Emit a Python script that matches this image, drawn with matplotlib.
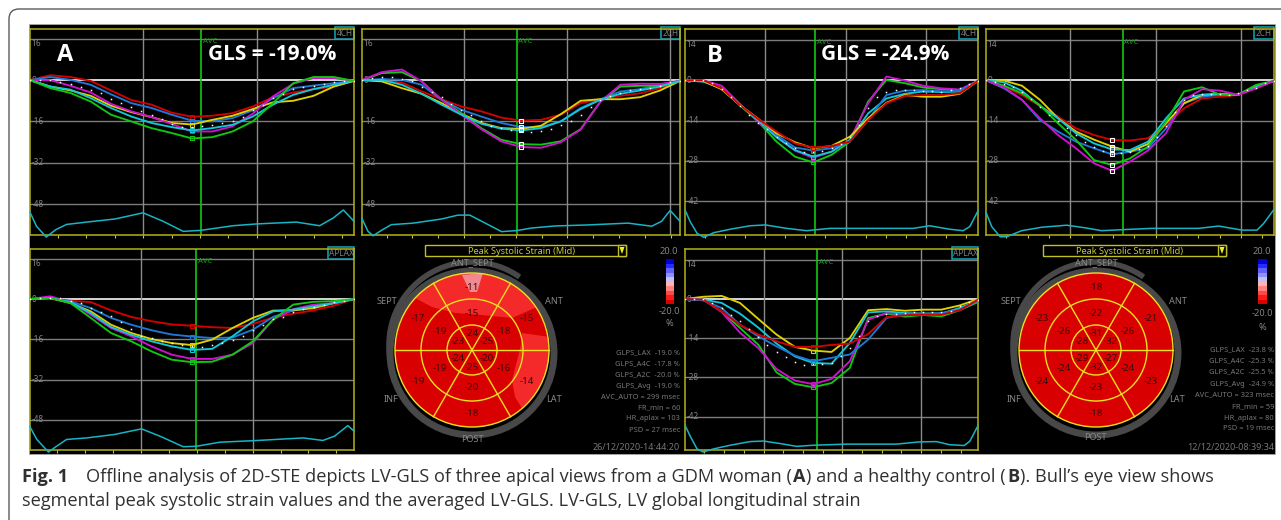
import matplotlib
matplotlib.use('Agg')
import matplotlib.pyplot as plt
import numpy as np
from matplotlib.patches import Rectangle, Circle, Arc, Polygon, FancyBboxPatch

plt.rcParams['font.family'] = ['Noto Sans', 'DejaVu Sans']

# time axis of one cycle, as a fraction of the panel width
knot_x = [0, .0625, .125, .1875, .25, .3125, .375, .4375, .5, .5625, .625, .6875, .75, .8125, .875, .9375, 1]
dots_x = [0, .03125, .0625, .09375, .125, .15625, .1875, .21875, .25, .28125, .3125, .34375, .375, .40625, .4375,
          .46875, .5, .53125, .5625, .59375, .625, .65625, .6875, .71875, .75, .78125, .8125, .84375, .875, .90625,
          .9375, .96875, 1]

# A 4CH
a4_red = [0, 1.9, 1.2, -.3, -4, -7.7, -9.5, -12.6, -14.2, -13.8, -12.8, -10.2, -6.6, -4.8, -3.5, -2.5, -.3]
a4_blue = [0, 1.2, .1, -1.8, -5.5, -8.9, -10.8, -13.4, -15.7, -16, -14.7, -11.7, -7, -3.1, -2.1, -1.2, -.3]
a4_yellow = [0, -2.5, -4, -6.1, -9.9, -12.4, -14.3, -16.6, -17.2, -15.4, -13.8, -11.2, -8.6, -8, -6.1, -2.5, -.3]
a4_magenta = [0, 0, -2.2, -4.8, -9.2, -12.1, -14.3, -17, -19.9, -19.9, -17.9, -13, -6.3, -1.4, .8, .8, -.3]
a4_cyan = [0, -2.5, -3.7, -7, -10.8, -14.1, -16.6, -18.2, -19.5, -18.6, -17.3, -14.1, -9.5, -5.7, -3.5, -1.8, -.3]
a4_green = [0, -3.1, -5, -8.3, -13.4, -16, -18.6, -20.5, -22.6, -22.1, -19.9, -16, -8.9, -1.2, 1.2, 1.2, -.3]
a4_dots = [0, 0, -.1, -.8, -1.4, -2.6, -3.7, -5, -7.2, -9, -10.6, -12.1, -13.7, -15.2, -16.9, -18.1, -18.2, -17.9,
           -17.4, -16.8, -15.7, -14.3, -11.7, -9.5, -7, -5.2, -3.5, -2.6, -2.3, -1.6, -.9, -.4, -.3]
a4_ecg_x = [0, .02, .05, .08, .113, .175, .262, .349, .411, .473, .527, .627, .701, .822, .894, .936, .967, 1]
a4_ecg = [-51.2, -56.6, -60.8, -57.9, -55.9, -55, -53.8, -51.4, -54.7, -58.6, -58.2, -56.4, -55.7, -55, -56.4, -53.4,
          -50.3, -54.7]

# A 2CH
a2_red = [0, -.3, -.9, -4.4, -7.4, -10.2, -12.1, -14.5, -15.7, -15.4, -13.4, -8.9, -7.4, -6.1, -5.1, -3.1, -.3]
a2_blue = [0, .4, .1, -1.8, -7.6, -11.5, -14.1, -16.6, -18.2, -18.2, -16, -10.8, -7.4, -4.4, -3.5, -1.8, -.3]
a2_yellow = [0, -.5, -3.1, -5.3, -8.9, -13, -16.6, -18.6, -18.9, -17.7, -13.2, -8, -7.4, -7.4, -6.6, -4, -.3]
a2_magenta = [0, 3.1, 4.1, -.5, -7.6, -13.4, -19, -23.7, -25.9, -26.2, -24.1, -19.2, -8.3, -1.8, -1.4, -1.5, -.3]
a2_cyan = [0, .1, -1.8, -5.3, -9.5, -13.4, -16.9, -18.8, -19.5, -18.6, -16, -11.2, -7.6, -5.3, -4, -2.5, -.3]
a2_green = [0, 2.7, 3.1, -.5, -7.6, -12.8, -18.6, -23.1, -24.8, -25, -23.7, -19, -8.3, -2.5, -2.2, -2.2, -.3]
a2_dots = [0, .9, 1.2, 1.3, .5, -.3, -2.5, -4.6, -6.7, -9.2, -11.5, -13.7, -15.7, -17.7, -18.5, -19.4, -19.9, -20.1,
           -19.6, -18.8, -17.4, -15.9, -13.4, -10.5, -7.6, -6.1, -4.8, -4, -3.6, -3, -2.1, -.6, -.3]
a2_ecg_x = [0, .019, .035, .061, .092, .161, .25, .302, .339, .397, .439, .486, .533, .607, .711, .837, .911, .942,
            .969, 1]
a2_ecg = [-53.7, -58.6, -60.3, -58.2, -56, -55.4, -53.8, -52.3, -52.3, -56, -58.7, -58.3, -57.3, -56.5, -56.1, -55.4,
          -56.6, -54.7, -50.5, -54.7]

# A APLAX
al_red = [0, 0, -.7, -1.2, -4.5, -7.1, -8.8, -10.1, -10.6, -11.2, -11.5, -9.9, -7.3, -5.8, -4.5, -2.6, 0]
al_blue = [0, .5, -.9, -3.6, -7.5, -10.2, -12.4, -14.1, -14.9, -15.5, -15.3, -12.2, -7.1, -4.5, -3.3, -1.6, 0]
al_yellow = [0, .4, -1.6, -4.9, -10.2, -13.5, -15.9, -17.5, -18.3, -16.1, -11.5, -7.5, -4.6, -4.5, -3.6, -1.6, 0]
al_magenta = [0, 1.1, -1.2, -6.2, -11.5, -14.8, -18.8, -22.1, -23.8, -23.8, -22.1, -17.5, -8.2, -4, -2.2, -1.6, 0]
al_cyan = [0, .4, -1.2, -5.6, -11.1, -14.2, -16.8, -18.8, -20.2, -19.8, -14.8, -8.9, -4.9, -4.2, -2.9, -1.6, 0]
al_green = [0, .4, -1.6, -7.5, -13.5, -16.8, -20.8, -24.1, -25.1, -24.9, -22.1, -16.8, -8.2, -2.2, -1.1, -.8, 0]
al_dots = [0, .4, .5, .3, -.8, -1.7, -3.4, -5, -6.9, -9.2, -11.8, -14.5, -15.5, -16.5, -17.5, -18.4, -18.7, -19,
           -18.3, -17.5, -16.3, -14.8, -12.2, -10.5, -8, -7.1, -5.3, -4, -3, -2.3, -1.3, -.6, 0]
al_ecg_x = [0, .021, .057, .082, .113, .175, .262, .344, .401, .473, .514, .586, .689, .843, .904, .94, .981, 1]
al_ecg = [-50.8, -55.8, -60.8, -58.5, -55.8, -55.2, -53.8, -51.6, -54.5, -58.7, -58.5, -56.9, -56.3, -55.2, -56.2,
          -54.5, -50.3, -52.5]

# B 4CH
b4_red = [0, 0, -2.8, -8.6, -13.5, -17.8, -21.9, -23.4, -22.8, -21.3, -13.8, -8, -5.4, -5.1, -5.1, -4.5, -.2]
b4_blue = [0, -.1, -2.8, -8.6, -13.5, -19, -23.3, -24.4, -23.6, -21.3, -13.8, -5.1, -3.6, -3.4, -3.8, -3.7, -.2]
b4_yellow = [0, -.2, -3.1, -8.6, -13.4, -18.4, -21.5, -23.6, -22.8, -19.6, -13.2, -7.8, -5.1, -5.7, -5.7, -4.7, -.2]
b4_magenta = [0, 0, -1.9, -8.2, -14.4, -19.6, -24.4, -26.9, -24.8, -20.7, -8, 1.3, -.1, -1.9, -2.8, -3.2, -.2]
b4_cyan = [0, -.5, -2.8, -8.6, -14, -19.8, -24.2, -26.5, -24.8, -20.7, -11.5, -6.3, -4.7, -3.9, -4.1, -3.9, -.2]
b4_green = [0, -.2, -2.8, -8.6, -14.4, -21.3, -26.5, -28.5, -25.9, -21.3, -7.4, .1, -1, -2.5, -3.1, -3.4, -.2]
b4_dots = [0, 0, 0, -.8, -3, -5.9, -8.9, -12, -14.7, -16.8, -19.8, -21.9, -23.6, -24.8, -24.9, -24.4, -23.6, -22.2,
           -19.6, -15.5, -9.7, -5.9, -3.9, -3.4, -3.4, -3.5, -3.8, -3.8, -3.9, -3.5, -2.8, -1.2, -.2]
b4_ecg_x = [0, .018, .041, .064, .098, .154, .222, .274, .347, .415, .495, .665, .779, .835, .904, .949, .972, 1]
b4_ecg = [-45, -49.1, -53.1, -54.5, -52.9, -51.7, -50.5, -50.2, -51.4, -52.2, -51.4, -51.4, -51.4, -50.5, -51.7,
          -52.2, -50.8, -45.3]

# B 2CH
b2_red = [0, -2.2, -5.1, -8.9, -12.6, -16.7, -19, -20.7, -20.9, -20.1, -15.5, -9.7, -6.3, -5.7, -5.1, -2.8, -.2]
b2_blue = [0, -2.8, -6.8, -13.8, -17.8, -21.3, -23.6, -25.7, -24.8, -23.6, -16.7, -8, -5.7, -5, -5, -2.5, -.2]
b2_yellow = [0, -.1, -1.9, -6.8, -13.2, -17.8, -20.6, -23, -24.8, -22.1, -14.9, -8, -5.1, -4.7, -5.1, -2.2, -.2]
b2_magenta = [0, -2.5, -6.8, -13.2, -19, -23.6, -28.8, -31.4, -28.2, -24.4, -18.4, -6.8, -3.1, -3.6, -5, -2.8, -.2]
b2_cyan = [0, -.7, -3.7, -8.9, -13.2, -18.4, -21.9, -24, -24.2, -21.3, -13.2, -6.3, -5, -4.7, -5, -2.2, -.2]
b2_green = [0, -1.9, -4.5, -8.6, -14.9, -20.7, -27.7, -29.4, -27.1, -23, -14.4, -3.9, -2.4, -5, -5, -1.6, -.2]
b2_dots = [0, -.5, -1.2, -2.2, -3.9, -6.4, -9.1, -12, -14.1, -16.7, -19, -21.3, -23.3, -24.7, -25.7, -25.3, -24.8,
           -24, -22.8, -19.6, -15.9, -10.9, -6.8, -5.2, -4.6, -4.6, -4.6, -5, -4.5, -3.5, -2.7, -.8, -.2]
b2_ecg_x = [0, .02, .049, .072, .124, .194, .28, .344, .402, .483, .576, .738, .808, .889, .941, .964, 1]
b2_ecg = [-45.9, -50.8, -54.3, -54.3, -52.2, -51, -50.3, -51.2, -52.2, -51.8, -51.4, -51.4, -50.6, -52, -52, -49.7,
          -44.8]

# B APLAX
bl_red = [0, -.2, -4.4, -9.2, -12.7, -15.1, -17.1, -17.1, -16.4, -15.9, -12.5, -6.5, -5.8, -5.6, -5.6, -4, -.2]
bl_blue = [0, -.5, -3.2, -9.2, -13.3, -16.9, -20.2, -22.2, -21, -19.8, -14.5, -6.8, -5.2, -5.2, -5, -3.8, -.6]
bl_yellow = [0, .8, 1.1, -1.4, -7.1, -12.7, -17.1, -18.4, -18.9, -13.9, -4, -3.6, -4.2, -3.8, -3.8, -2.3, 0]
bl_magenta = [0, -.2, -4.6, -12, -17.5, -25, -29.1, -30.4, -28.5, -22.2, -7.4, -5, -5.5, -5.6, -5.6, -3.8, -.6]
bl_cyan = [0, -.2, -1.4, -5.2, -10.2, -15.9, -20.5, -22.8, -23.1, -15.7, -4.8, -4.4, -5, -5.2, -5.2, -3.2, -.6]
bl_green = [0, -.2, -4.4, -10.3, -16.3, -26.2, -30.3, -31.5, -30, -24.6, -6.8, -5.2, -6.3, -5.7, -6.2, -4, -1.1]
bl_dots = [0, 0, -.1, -1.4, -3.2, -5.6, -8, -10.7, -13.7, -16.5, -18.9, -20.7, -22.5, -23.4, -23.1, -23.2, -22.8,
           -20.5, -17.5, -13.3, -8, -5.9, -5.2, -5.2, -5, -4.8, -4.8, -4.8, -4.8, -4.4, -2.4, -1.2, -.2]
bl_ecg_x = [0, .018, .041, .062, .098, .154, .222, .268, .325, .381, .438, .552, .722, .801, .858, .903, .953, .972, 1]
bl_ecg = [-45.1, -49, -53.5, -54.6, -53.5, -52.2, -50.9, -50.7, -51.6, -52.6, -52.2, -51.8, -51.8, -51, -50.9, -52,
          -52.3, -50.8, -45.2]

# bull's eye, sectors at 90, 30, 330, 270, 210, 150 degrees
sector_angles = [90, 30, 330, 270, 210, 150]
a_outer = [-11, -15, -14, -18, -19, -17]
a_mid = [-15, -18, -16, -20, -19, -19]
a_inner = [-24, -25, -20, -25, -24, -23]
b_outer = [-18, -21, -23, -18, -24, -23]
b_mid = [-22, -26, -24, -23, -24, -26]
b_inner = [-31, -32, -27, -32, -29, -28]

a_stats = ['GLPS_LAX  -19.0 %', 'GLPS_A4C  -17.8 %', 'GLPS_A2C  -20.0 %', 'GLPS_Avg  -19.0 %',
           'AVC_AUTO = 299 msec', 'FR_min = 60', 'HR_aplax = 103', 'PSD = 27 msec']
b_stats = ['GLPS_LAX  -23.8 %', 'GLPS_A4C  -25.3 %', 'GLPS_A2C  -25.5 %', 'GLPS_Avg  -24.9 %',
           'AVC_AUTO = 323 msec', 'FR_min = 59', 'HR_aplax = 80', 'PSD = 19 msec']

bar_colors = ['#0000d8', '#2a2aff', '#6060ff', '#9090ff', '#c0c0ff', '#ffb4b4', '#ff8080', '#ff4848', '#ff1818', '#d80000']

W, H = 1281, 520
RED, BLUE, YELLOW, MAGENTA, CYAN, GREEN = '#d40000', '#1e78d8', '#e0d000', '#d010d0', '#10c8d8', '#10c810'
GRAY = '#868686'
FRAME = '#b4b418'

fig = plt.figure(figsize=(W / 100, H / 100), dpi=100, facecolor='white')
bg = fig.add_axes([0, 0, 1, 1], zorder=0)
bg.set_xlim(0, W)
bg.set_ylim(H, 0)
bg.axis('off')

# page card and the black screenshot
bg.add_patch(FancyBboxPatch((9, 9), W + 40, H + 40, boxstyle='round,pad=0,rounding_size=10', fc='white',
                            ec='#5a5a5a', lw=1.0))
bg.add_patch(Rectangle((29, 24), 1246, 430, fc='black', ec='#b0b0b0', lw=0.5))


def strainPanel(rect, ylim, levels, avc, grids, curves, dots, ecg_x, ecg, tag, tagw, markIdx, markWhite=False):
    left, right, top, bottom = rect
    ax = fig.add_axes([left / W, 1 - bottom / H, (right - left) / W, (bottom - top) / H], zorder=1)
    ax.patch.set_alpha(0)
    ax.set_xlim(0, 1)
    ax.set_ylim(*ylim)

    for level in levels:
        ax.axhline(level, color='#e6e6e6' if level == 0 else '#7c7c7c', lw=1.3 if level == 0 else 1.0, zorder=1)
        ax.text(.004, level, str(level), color=GRAY, fontsize=6, va='top' if level > 0 else 'center',
                zorder=2)
    for g in grids:
        ax.axvline(g, color='#8a8a8a', lw=1.0, zorder=1)
    ax.axvline(avc, color=GREEN, lw=1.2, zorder=2)
    ax.text(avc + .006, levels[0] + .2, 'AVC', color='#12a012', fontsize=5.5, va='top')

    for vals, col in curves:
        ax.plot(knot_x, vals, color=col, lw=1.35, zorder=3, solid_joinstyle='round', marker='s', ms=2.8,
                markevery=[markIdx], mfc='none', mew=0.8, mec='white' if markWhite else col)
    ax.plot(dots_x, dots, ls='none', marker='s', ms=1.1, color='white', mew=0, zorder=4)
    ax.plot(ecg_x, ecg, color='#18b4c4', lw=1.1, zorder=3, clip_on=False)

    for side in ['top', 'bottom', 'left', 'right']:
        ax.spines[side].set_color(FRAME)
        ax.spines[side].set_linewidth(1.1)
    step = (grids[1] - grids[0]) / 4
    ticks = [t for t in [grids[0] + step * i for i in range(-4, 16)] if 0 < t < 1]
    ax.set_xticks(ticks)
    ax.set_xticklabels([])
    ax.set_yticks([])
    ax.tick_params(axis='x', direction='out', length=2, width=0.8, color='#c8c840')

    # view tag in the corner
    bg.add_patch(Rectangle((right - tagw, top - 2), tagw, 12, fc='black', ec='#10a8b8', lw=1.1, zorder=3))
    bg.text(right - tagw / 2, top + 4, tag, color='#7c7c7c', fontsize=6, ha='center', va='center', zorder=4)
    return ax


strainPanel((30, 354, 29, 235), (-60, 19.8), [16, 0, -16, -32, -48], .527, [.349, .70],
            [(a4_red, RED), (a4_blue, BLUE), (a4_yellow, YELLOW), (a4_magenta, MAGENTA), (a4_cyan, CYAN),
             (a4_green, GREEN)], a4_dots, a4_ecg_x, a4_ecg, '4CH', 19, 8)
strainPanel((362, 680, 29, 235), (-60, 19.8), [16, 0, -16, -32, -48], .486, [.321, .646, .968],
            [(a2_red, RED), (a2_blue, BLUE), (a2_yellow, YELLOW), (a2_green, GREEN), (a2_magenta, MAGENTA),
             (a2_cyan, CYAN)], a2_dots, a2_ecg_x, a2_ecg, '2CH', 19, 8, True)
strainPanel((30, 354, 249, 450), (-60, 19.9), [16, 0, -16, -32, -48], .512, [.342, .687],
            [(al_red, RED), (al_blue, BLUE), (al_yellow, YELLOW), (al_magenta, MAGENTA), (al_cyan, CYAN),
             (al_green, GREEN)], al_dots, al_ecg_x, al_ecg, 'APLAX', 26, 8)
strainPanel((685, 978, 29, 235), (-53.7, 17.8), [14, 0, -14, -28, -42], .443, [.274, .548, .824],
            [(b4_green, GREEN), (b4_magenta, MAGENTA), (b4_cyan, CYAN), (b4_blue, BLUE), (b4_yellow, YELLOW),
             (b4_red, RED)], b4_dots, b4_ecg_x, b4_ecg, '4CH', 19, 7)
strainPanel((986, 1274, 29, 235), (-53.7, 17.8), [14, 0, -14, -28, -42], .474, [.293, .589, .884],
            [(b2_red, RED), (b2_blue, BLUE), (b2_yellow, YELLOW), (b2_cyan, CYAN), (b2_green, GREEN),
             (b2_magenta, MAGENTA)], b2_dots, b2_ecg_x, b2_ecg, '2CH', 20, 7, True)
strainPanel((685, 978, 249, 450), (-53.9, 17.85), [14, 0, -14, -28, -42], .45, [.268, .537, .806],
            [(bl_yellow, YELLOW), (bl_green, GREEN), (bl_magenta, MAGENTA), (bl_cyan, CYAN), (bl_blue, BLUE),
             (bl_red, RED)], bl_dots, bl_ecg_x, bl_ecg, 'APLAX', 26, 7)


def bullsEye(cx, cy, outer, mid, inner, ringLabels, zones):
    # grey rings behind the disk
    bg.add_patch(Circle((cx, cy + 3), 82, fc='none', ec='#484848', lw=5, zorder=1))
    bg.add_patch(Arc((cx, cy - 5), 166, 166, theta1=170, theta2=305, ec='#484848', lw=4, zorder=1))

    disk = Circle((cx, cy), 77, fc='#d80000', ec='none', zorder=2)
    bg.add_patch(disk)
    for pts, col in zones:
        zone = Polygon(pts, closed=True, fc=col, ec='none', zorder=2.1)
        bg.add_patch(zone)
        zone.set_clip_path(Circle((cx, cy), 77, transform=bg.transData))

    for r in [77, 51, 25]:
        bg.add_patch(Circle((cx, cy), r, fc='none', ec='#f0e020', lw=1.0, zorder=3))
    for ang in [0, 60, 120]:
        t = np.radians(ang)
        bg.plot([cx - 77 * np.cos(t), cx + 77 * np.cos(t)], [cy + 77 * np.sin(t), cy - 77 * np.sin(t)],
                color='#f0e020', lw=1.0, zorder=3)

    for vals, r in [(outer, 63), (mid, 37), (inner, 17)]:
        for v, ang in zip(vals, sector_angles):
            t = np.radians(ang)
            bg.text(cx + r * np.cos(t), cy - r * np.sin(t), str(v), color='#3c0808', fontsize=7, ha='center',
                    va='center', zorder=4)

    for label, x, y in ringLabels:
        bg.text(x, y, label, color=GRAY, fontsize=6.6, ha='center', va='center', zorder=4)


a_zones = [([(408, 283), (415, 298), (432, 307), (455, 313), (482, 315), (512, 318), (537, 307), (542, 273), (408, 260)],
            '#f42a2a'),
           ([(522, 333), (550, 337), (552, 393), (523, 410), (515, 397), (512, 380), (518, 357), (522, 340)], '#f42a2a'),
           ([(462, 275), (470, 292), (477, 292), (483, 273)], '#f08a90')]
bullsEye(472, 350, a_outer, a_mid, a_inner,
         [('ANT_SEPT', 472, 263), ('SEPT', 387, 302), ('ANT', 554, 302), ('INF', 391, 400), ('LAT', 554, 400),
          ('POST', 472, 439)], a_zones)
bullsEye(1096, 350, b_outer, b_mid, b_inner,
         [('ANT_SEPT', 1096, 263), ('SEPT', 1011, 302), ('ANT', 1178, 302), ('INF', 1014, 400), ('LAT', 1177, 400),
          ('POST', 1095, 438)], [])


def dropDown(x0, x1, tx):
    bg.add_patch(Rectangle((x0, 245), x1 - x0, 11, fc='black', ec='#c0c020', lw=1.0, zorder=1))
    bg.add_patch(Rectangle((x1 - 8, 245), 8, 11, fc='black', ec='#c0c020', lw=1.0, zorder=1))
    bg.add_patch(Polygon([(x1 - 6.5, 247), (x1 - 1.5, 247), (x1 - 4, 254)], fc='#f0f020', ec='none', zorder=2))
    bg.text(tx, 252, 'Peak Systolic Strain (Mid)', color='#c8c838', fontsize=6.6, ha='center', va='center', zorder=2)


dropDown(425, 626, 522)
dropDown(1043, 1226, 1130)


def colorBar(x, w, labelx, ys):
    for i, col in enumerate(bar_colors):
        bg.add_patch(Rectangle((x, 259 + i * 4.5), w, 4.5, fc=col, ec='none', zorder=2))
    for txt, y in zip(['20.0', '-20.0', '%'], ys):
        bg.text(labelx, y, txt, color=GRAY, fontsize=6.6, ha='center', va='center')


colorBar(666, 8, 669, [252, 311, 323])
colorBar(1258, 9, 1262, [252, 313, 327])

for txt, y in zip(a_stats, [353, 364, 375, 386, 397, 408, 419, 430]):
    bg.text(680, y, txt, color='#767676', fontsize=5.4, ha='right', va='center')
for txt, y in zip(b_stats, [350, 361, 372, 384, 395, 407, 418, 429]):
    bg.text(1274, y, txt, color='#767676', fontsize=5.4, ha='right', va='center')
bg.text(680, 448, '26/12/2020-14:44:20', color='#767676', fontsize=6.5, ha='right', va='center')
bg.text(1274, 448, '12/12/2020-08:39:34', color='#767676', fontsize=6.5, ha='right', va='center')

# big labels sit over the panels
top = fig.add_axes([0, 0, 1, 1], zorder=5)
top.set_xlim(0, W)
top.set_ylim(H, 0)
top.axis('off')
for txt, x, y, size in [('A', 65, 55, 17), ('GLS = -19.0%', 272, 55, 15), ('B', 715, 56, 17), ('GLS = -24.9%', 885, 55, 15)]:
    top.text(x, y, txt, color='white', fontsize=size, fontweight='bold', ha='center', va='center',
             family=['Open Sans', 'DejaVu Sans'])

# caption, mixed weights laid out one run after another
capLine1 = [('Fig. 1', 'bold', 0), ('Offline analysis of 2D-STE depicts LV-GLS of three apical views from a GDM woman (', 'normal', 17),
            ('A', 'bold', 0), (') and a healthy control (', 'normal', 0), ('B', 'bold', 0),
            ('). Bull\u2019s eye view shows', 'normal', 0)]
capLine2 = [('segmental peak systolic strain values and the averaged LV-GLS. LV-GLS, LV global longitudinal strain', 'normal', 0)]


def putRuns(runs, x, y):
    rend = fig.canvas.get_renderer()
    for txt, weight, gap in runs:
        x += gap
        t = bg.text(x, y, txt, color='#303030', fontsize=13.1, fontweight=weight, va='center',
                    family=['Open Sans', 'DejaVu Sans'])
        box = t.get_window_extent(rend)
        x += box.width + 1


putRuns(capLine1, 22, 477)
putRuns(capLine2, 22, 501)

fig.savefig('out.png', dpi=100)
